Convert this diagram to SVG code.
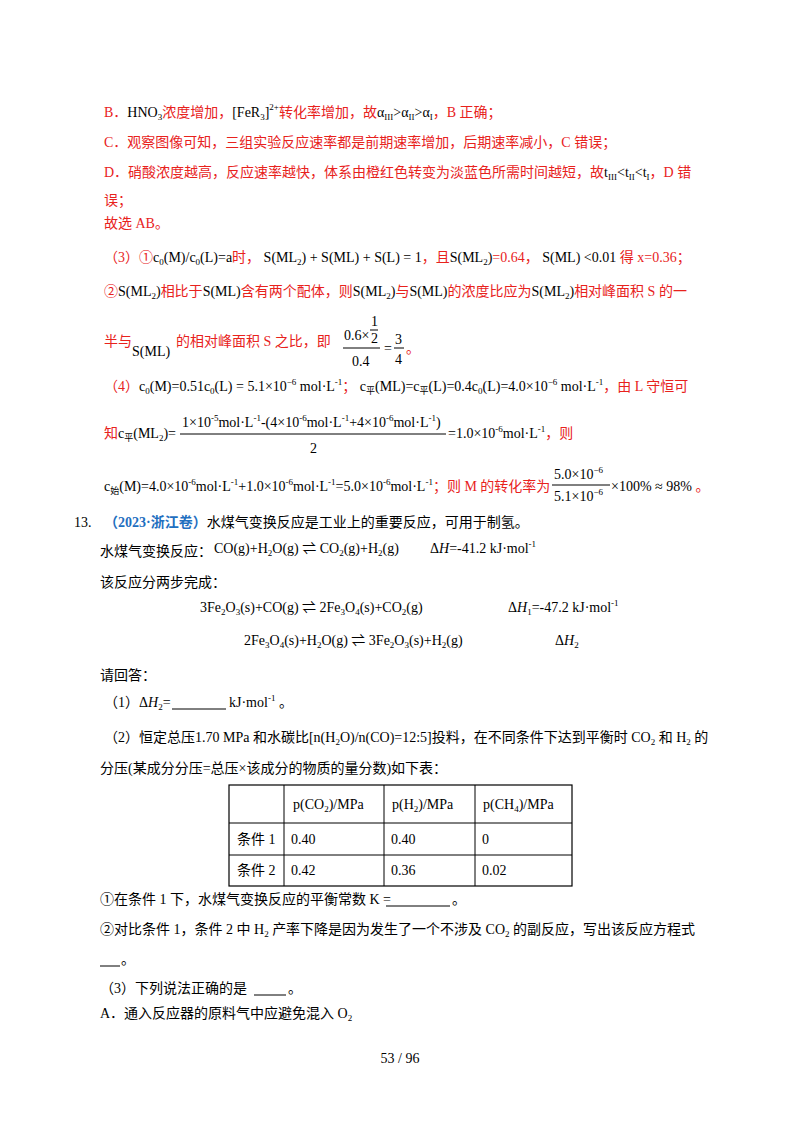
<svg xmlns="http://www.w3.org/2000/svg" width="800" height="1132" viewBox="0 0 800 1132">
<style>
text{font-family:"Liberation Serif","Noto Sans CJK SC",serif;font-size:14px;fill:#000}
.r{fill:#e8221c}
.b{fill:#1f6fc0;font-weight:bold}
.s{font-size:9px}
line{stroke:#000;stroke-width:1}
</style>
<rect width="800" height="1132" fill="#fff"/>
<g id="answer-red">
<text x="104" y="117"><tspan class="r">B．</tspan>HNO<tspan class="s" dy="3">3</tspan><tspan class="r" dy="-3">浓度增加，</tspan>[FeR<tspan class="s" dy="3">3</tspan><tspan dy="-3">]</tspan><tspan class="s" dy="-7">2+</tspan><tspan class="r" dy="7">转化率增加，故</tspan>α<tspan class="s" dy="3">III</tspan><tspan dy="-3">&gt;α</tspan><tspan class="s" dy="3">II</tspan><tspan dy="-3">&gt;α</tspan><tspan class="s" dy="3">I</tspan><tspan class="r" dy="-3">，B 正确；</tspan></text>
<text x="104" y="147" class="r">C．观察图像可知，三组实验反应速率都是前期速率增加，后期速率减小，C 错误；</text>
<text x="104" y="177"><tspan class="r">D．硝酸浓度越高，反应速率越快，体系由橙红色转变为淡蓝色所需时间越短，故</tspan>t<tspan class="s" dy="3">III</tspan><tspan dy="-3">&lt;t</tspan><tspan class="s" dy="3">II</tspan><tspan dy="-3">&lt;t</tspan><tspan class="s" dy="3">I</tspan><tspan class="r" dy="-3">，D 错</tspan></text>
<text x="104" y="205" class="r">误；</text>
<text x="104" y="228" class="r">故选 AB。</text>
<text x="104" y="262"><tspan class="r">（3）①</tspan>c<tspan class="s" dy="3">0</tspan><tspan dy="-3">(M)/c</tspan><tspan class="s" dy="3">0</tspan><tspan dy="-3">(L)=a</tspan><tspan class="r">时，</tspan> S(ML<tspan class="s" dy="3">2</tspan><tspan dy="-3">) + S(ML) + S(L) = 1</tspan><tspan class="r">，且</tspan>S(ML<tspan class="s" dy="3">2</tspan><tspan dy="-3">)</tspan><tspan class="r">=0.64，</tspan> S(ML) &lt;0.01<tspan class="r"> 得 x=0.36；</tspan></text>
<text x="104" y="296"><tspan class="r">②</tspan>S(ML<tspan class="s" dy="3">2</tspan><tspan dy="-3">)</tspan><tspan class="r">相比于</tspan>S(ML)<tspan class="r">含有两个配体，则</tspan>S(ML<tspan class="s" dy="3">2</tspan><tspan dy="-3">)</tspan><tspan class="r">与</tspan>S(ML)<tspan class="r">的浓度比应为</tspan>S(ML<tspan class="s" dy="3">2</tspan><tspan dy="-3">)</tspan><tspan class="r">相对峰面积 S 的一</tspan></text>
<text x="104" y="346" class="r">半与</text>
<text x="132" y="356">S(ML)</text>
<text x="176" y="346" class="r">的相对峰面积 S 之比，即</text>
<text x="344" y="340">0.6×</text>
<text x="371" y="326">1</text>
<line x1="370" y1="330" x2="378" y2="330"/>
<text x="371" y="343">2</text>
<line x1="343" y1="348" x2="380" y2="348"/>
<text x="352" y="366">0.4</text>
<text x="384" y="353">=</text>
<text x="395" y="344">3</text>
<line x1="394" y1="348" x2="404" y2="348"/>
<text x="395" y="364">4</text>
<text x="406" y="353" class="r">。</text>
<text x="104" y="391"><tspan class="r">（4）</tspan>c<tspan class="s" dy="3">0</tspan><tspan dy="-3">(M)=0.51c</tspan><tspan class="s" dy="3">0</tspan><tspan dy="-3">(L) = 5.1×10</tspan><tspan class="s" dy="-6">−6</tspan><tspan dy="6"> mol·L</tspan><tspan class="s" dy="-6">-1</tspan><tspan class="r" dy="6">；</tspan> c<tspan class="s" dy="3">平</tspan><tspan dy="-3">(ML)=c</tspan><tspan class="s" dy="3">平</tspan><tspan dy="-3">(L)=0.4c</tspan><tspan class="s" dy="3">0</tspan><tspan dy="-3">(L)=4.0×10</tspan><tspan class="s" dy="-6">−6</tspan><tspan dy="6"> mol·L</tspan><tspan class="s" dy="-6">-1</tspan><tspan class="r" dy="6">，由 L 守恒可</tspan></text>
<text x="104" y="438"><tspan class="r">知</tspan>c<tspan class="s" dy="3">平</tspan><tspan dy="-3">(ML</tspan><tspan class="s" dy="3">2</tspan><tspan dy="-3">)=</tspan></text>
<text x="182" y="427">1×10<tspan class="s" dy="-6">-5</tspan><tspan dy="6">mol·L</tspan><tspan class="s" dy="-6">-1</tspan><tspan dy="6">-(4×10</tspan><tspan class="s" dy="-6">-6</tspan><tspan dy="6">mol·L</tspan><tspan class="s" dy="-6">-1</tspan><tspan dy="6">+4×10</tspan><tspan class="s" dy="-6">-6</tspan><tspan dy="6">mol·L</tspan><tspan class="s" dy="-6">-1</tspan><tspan dy="6">)</tspan></text>
<line x1="180" y1="434" x2="446" y2="434"/>
<text x="310" y="453">2</text>
<text x="448" y="438">=1.0×10<tspan class="s" dy="-6">-6</tspan><tspan dy="6">mol·L</tspan><tspan class="s" dy="-6">-1</tspan><tspan class="r" dy="6">，则</tspan></text>
<text x="104" y="491">c<tspan class="s" dy="3">始</tspan><tspan dy="-3">(M)=4.0×10</tspan><tspan class="s" dy="-6">-6</tspan><tspan dy="6">mol·L</tspan><tspan class="s" dy="-6">-1</tspan><tspan dy="6">+1.0×10</tspan><tspan class="s" dy="-6">-6</tspan><tspan dy="6">mol·L</tspan><tspan class="s" dy="-6">-1</tspan><tspan dy="6">=5.0×10</tspan><tspan class="s" dy="-6">-6</tspan><tspan dy="6">mol·L</tspan><tspan class="s" dy="-6">-1</tspan><tspan class="r" dy="6">；则 M 的转化率为</tspan></text>
<text x="554" y="479">5.0×10<tspan class="s" dy="-6">−6</tspan></text>
<line x1="552" y1="485" x2="610" y2="485"/>
<text x="554" y="501">5.1×10<tspan class="s" dy="-6">−6</tspan></text>
<text x="611" y="491">×100% ≈ 98%<tspan class="r"> 。</tspan></text>
</g>
<g id="question">
<text x="74" y="527">13.</text>
<text x="104" y="527"><tspan class="b">（2023·浙江卷）</tspan>水煤气变换反应是工业上的重要反应，可用于制氢。</text>
<text x="100" y="556">水煤气变换反应：</text>
<text x="214" y="553">CO(g)+H<tspan class="s" dy="3">2</tspan><tspan dy="-3">O(g) ⇌ CO</tspan><tspan class="s" dy="3">2</tspan><tspan dy="-3">(g)+H</tspan><tspan class="s" dy="3">2</tspan><tspan dy="-3">(g)</tspan></text>
<text x="430" y="553">Δ<tspan font-style="italic">H</tspan>=-41.2 kJ·mol<tspan class="s" dy="-6">-1</tspan></text>
<text x="100" y="587">该反应分两步完成：</text>
<text x="200" y="612">3Fe<tspan class="s" dy="3">2</tspan><tspan dy="-3">O</tspan><tspan class="s" dy="3">3</tspan><tspan dy="-3">(s)+CO(g) ⇌ 2Fe</tspan><tspan class="s" dy="3">3</tspan><tspan dy="-3">O</tspan><tspan class="s" dy="3">4</tspan><tspan dy="-3">(s)+CO</tspan><tspan class="s" dy="3">2</tspan><tspan dy="-3">(g)</tspan></text>
<text x="508" y="612">Δ<tspan font-style="italic">H</tspan><tspan class="s" dy="3">1</tspan><tspan dy="-3">=-47.2 kJ·mol</tspan><tspan class="s" dy="-6">-1</tspan></text>
<text x="244" y="645">2Fe<tspan class="s" dy="3">3</tspan><tspan dy="-3">O</tspan><tspan class="s" dy="3">4</tspan><tspan dy="-3">(s)+H</tspan><tspan class="s" dy="3">2</tspan><tspan dy="-3">O(g) ⇌ 3Fe</tspan><tspan class="s" dy="3">2</tspan><tspan dy="-3">O</tspan><tspan class="s" dy="3">3</tspan><tspan dy="-3">(s)+H</tspan><tspan class="s" dy="3">2</tspan><tspan dy="-3">(g)</tspan></text>
<text x="555" y="645">Δ<tspan font-style="italic">H</tspan><tspan class="s" dy="3">2</tspan></text>
<text x="100" y="680">请回答：</text>
<text x="104" y="707">（1）Δ<tspan font-style="italic">H</tspan><tspan class="s" dy="3">2</tspan><tspan dy="-3">= </tspan></text>
<line x1="172" y1="709" x2="226" y2="709"/>
<text x="229" y="707">kJ·mol<tspan class="s" dy="-6">-1</tspan><tspan dy="6"> 。</tspan></text>
<text x="104" y="742">（2）恒定总压1.70 MPa 和水碳比[n(H<tspan class="s" dy="3">2</tspan><tspan dy="-3">O)/n(CO)=12:5]投料，在不同条件下达到平衡时 CO</tspan><tspan class="s" dy="3">2</tspan><tspan dy="-3"> 和 H</tspan><tspan class="s" dy="3">2</tspan><tspan dy="-3"> 的</tspan></text>
<text x="100" y="773">分压(某成分分压=总压×该成分的物质的量分数)如下表：</text>
</g>
<g id="table">
<rect x="229" y="785" width="343" height="101" fill="none" stroke="#000" stroke-width="1.2"/>
<line x1="284" y1="785" x2="284" y2="886"/>
<line x1="384" y1="785" x2="384" y2="886"/>
<line x1="475" y1="785" x2="475" y2="886"/>
<line x1="229" y1="823" x2="572" y2="823"/>
<line x1="229" y1="855" x2="572" y2="855"/>
<text x="293" y="809">p(CO<tspan class="s" dy="3">2</tspan><tspan dy="-3">)/MPa</tspan></text>
<text x="392" y="809">p(H<tspan class="s" dy="3">2</tspan><tspan dy="-3">)/MPa</tspan></text>
<text x="483" y="809">p(CH<tspan class="s" dy="3">4</tspan><tspan dy="-3">)/MPa</tspan></text>
<text x="237" y="844">条件 1</text>
<text x="291" y="844">0.40</text>
<text x="391" y="844">0.40</text>
<text x="482" y="844">0</text>
<text x="237" y="875">条件 2</text>
<text x="291" y="875">0.42</text>
<text x="391" y="875">0.36</text>
<text x="482" y="875">0.02</text>
</g>
<g id="questions2">
<text x="100" y="904">①在条件 1 下，水煤气变换反应的平衡常数 K = </text>
<line x1="386" y1="906" x2="450" y2="906"/>
<text x="452" y="904">。</text>
<text x="100" y="934">②对比条件 1，条件 2 中 H<tspan class="s" dy="3">2</tspan><tspan dy="-3"> 产率下降是因为发生了一个不涉及 CO</tspan><tspan class="s" dy="3">2</tspan><tspan dy="-3"> 的副反应，写出该反应方程式</tspan></text>
<line x1="100" y1="966" x2="120" y2="966"/>
<text x="121" y="964">。</text>
<text x="100" y="993">（3）下列说法正确的是</text>
<line x1="254" y1="995" x2="286" y2="995"/>
<text x="288" y="993">。</text>
<text x="100" y="1018">A．通入反应器的原料气中应避免混入 O<tspan class="s" dy="3">2</tspan></text>
<text x="400" y="1063" text-anchor="middle">53  /  96</text>
</g>
</svg>
